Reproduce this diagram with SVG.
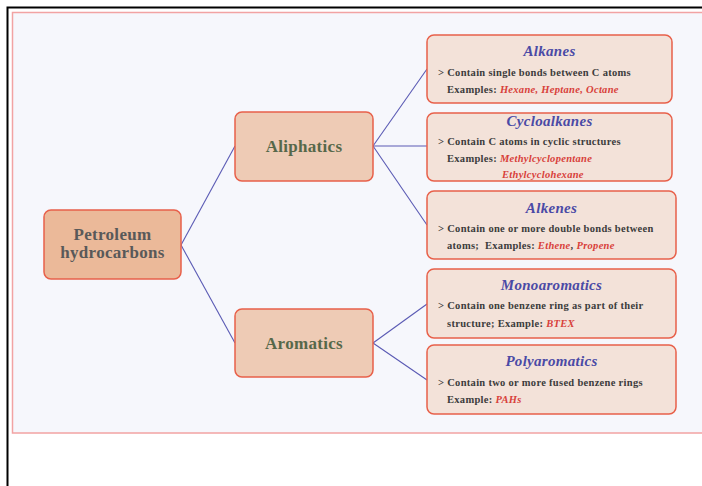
<svg xmlns="http://www.w3.org/2000/svg" width="702" height="486" viewBox="0 0 702 486">
<style>
.main{fill:#ebb999;stroke:#e8604a;stroke-width:1.5}
.mid{fill:#eecbb5;stroke:#e8604a;stroke-width:1.5}
.leaf{fill:#f3e2d9;stroke:#e8604a;stroke-width:1.5}
.lbl{font-family:"Liberation Serif",serif;font-weight:bold;font-size:17px;text-anchor:middle;letter-spacing:0.3px}
.ttl{font-family:"Liberation Serif",serif;font-weight:bold;font-style:italic;font-size:15px;fill:#4a4aa6;text-anchor:middle;letter-spacing:0.3px}
.body{font-family:"Liberation Serif",serif;font-weight:bold;font-size:10.5px;fill:#3c3c3c;letter-spacing:0.3px}
.ex{fill:#d8403a;font-style:italic}
.conn line{stroke:#5a5ab4;stroke-width:1.1}
</style>
<rect x="0" y="0" width="702" height="486" fill="#ffffff"/>
<path d="M7.5 486 V7.5 H702" fill="none" stroke="#000" stroke-width="2"/>
<rect x="12.5" y="12.5" width="700" height="420.5" fill="#f6f7fc" stroke="#f2a3a3" stroke-width="1.5"/>
<g class="conn" id="connectors">
<line x1="181" y1="245" x2="235" y2="146"/>
<line x1="181" y1="245" x2="235" y2="343"/>
<line x1="373" y1="146" x2="427" y2="69"/>
<line x1="373" y1="146" x2="427" y2="146"/>
<line x1="373" y1="146" x2="427" y2="225"/>
<line x1="373" y1="343" x2="427" y2="304"/>
<line x1="373" y1="343" x2="427" y2="380"/>
</g>
<g id="petroleum">
<rect class="main" x="44" y="210" width="137" height="69" rx="7"/>
<text class="lbl" x="112.5" y="240" fill="#595959">Petroleum</text>
<text class="lbl" x="112.5" y="258" fill="#595959">hydrocarbons</text>
</g>
<g id="aliphatics">
<rect class="mid" x="235" y="112" width="138" height="69" rx="7"/>
<text class="lbl" x="304" y="152" fill="#56684a">Aliphatics</text>
</g>
<g id="aromatics">
<rect class="mid" x="235" y="309" width="138" height="68" rx="7"/>
<text class="lbl" x="304" y="349" fill="#56684a">Aromatics</text>
</g>
<g id="alkanes">
<rect class="leaf" x="427" y="35" width="245" height="68" rx="7"/>
<text class="ttl" x="549.5" y="56">Alkanes</text>
<text class="body" x="438" y="76">&gt; Contain single bonds between C atoms</text>
<text class="body" x="447" y="93">Examples: <tspan class="ex">Hexane, Heptane, Octane</tspan></text>
</g>
<g id="cycloalkanes">
<rect class="leaf" x="427" y="113" width="245" height="68" rx="7"/>
<text class="ttl" x="549.5" y="126">Cycloalkanes</text>
<text class="body" x="438" y="145">&gt; Contain C atoms in cyclic structures</text>
<text class="body" x="447" y="162">Examples: <tspan class="ex">Methylcyclopentane</tspan></text>
<text class="body ex" x="502" y="178">Ethylcyclohexane</text>
</g>
<g id="alkenes">
<rect class="leaf" x="427" y="191" width="249" height="68" rx="7"/>
<text class="ttl" x="551.5" y="213">Alkenes</text>
<text class="body" x="438" y="232">&gt; Contain one or more double bonds between</text>
<text class="body" x="447" y="249">atoms;&#160; Examples: <tspan class="ex">Ethene</tspan>, <tspan class="ex">Propene</tspan></text>
</g>
<g id="monoaromatics">
<rect class="leaf" x="427" y="269" width="249" height="69" rx="7"/>
<text class="ttl" x="551.5" y="290">Monoaromatics</text>
<text class="body" x="438" y="309">&gt; Contain one benzene ring as part of their</text>
<text class="body" x="447" y="327">structure; Example: <tspan class="ex">BTEX</tspan></text>
</g>
<g id="polyaromatics">
<rect class="leaf" x="427" y="345" width="249" height="69" rx="7"/>
<text class="ttl" x="551.5" y="366">Polyaromatics</text>
<text class="body" x="438" y="386">&gt; Contain two or more fused benzene rings</text>
<text class="body" x="447" y="403">Example: <tspan class="ex">PAHs</tspan></text>
</g>
</svg>
